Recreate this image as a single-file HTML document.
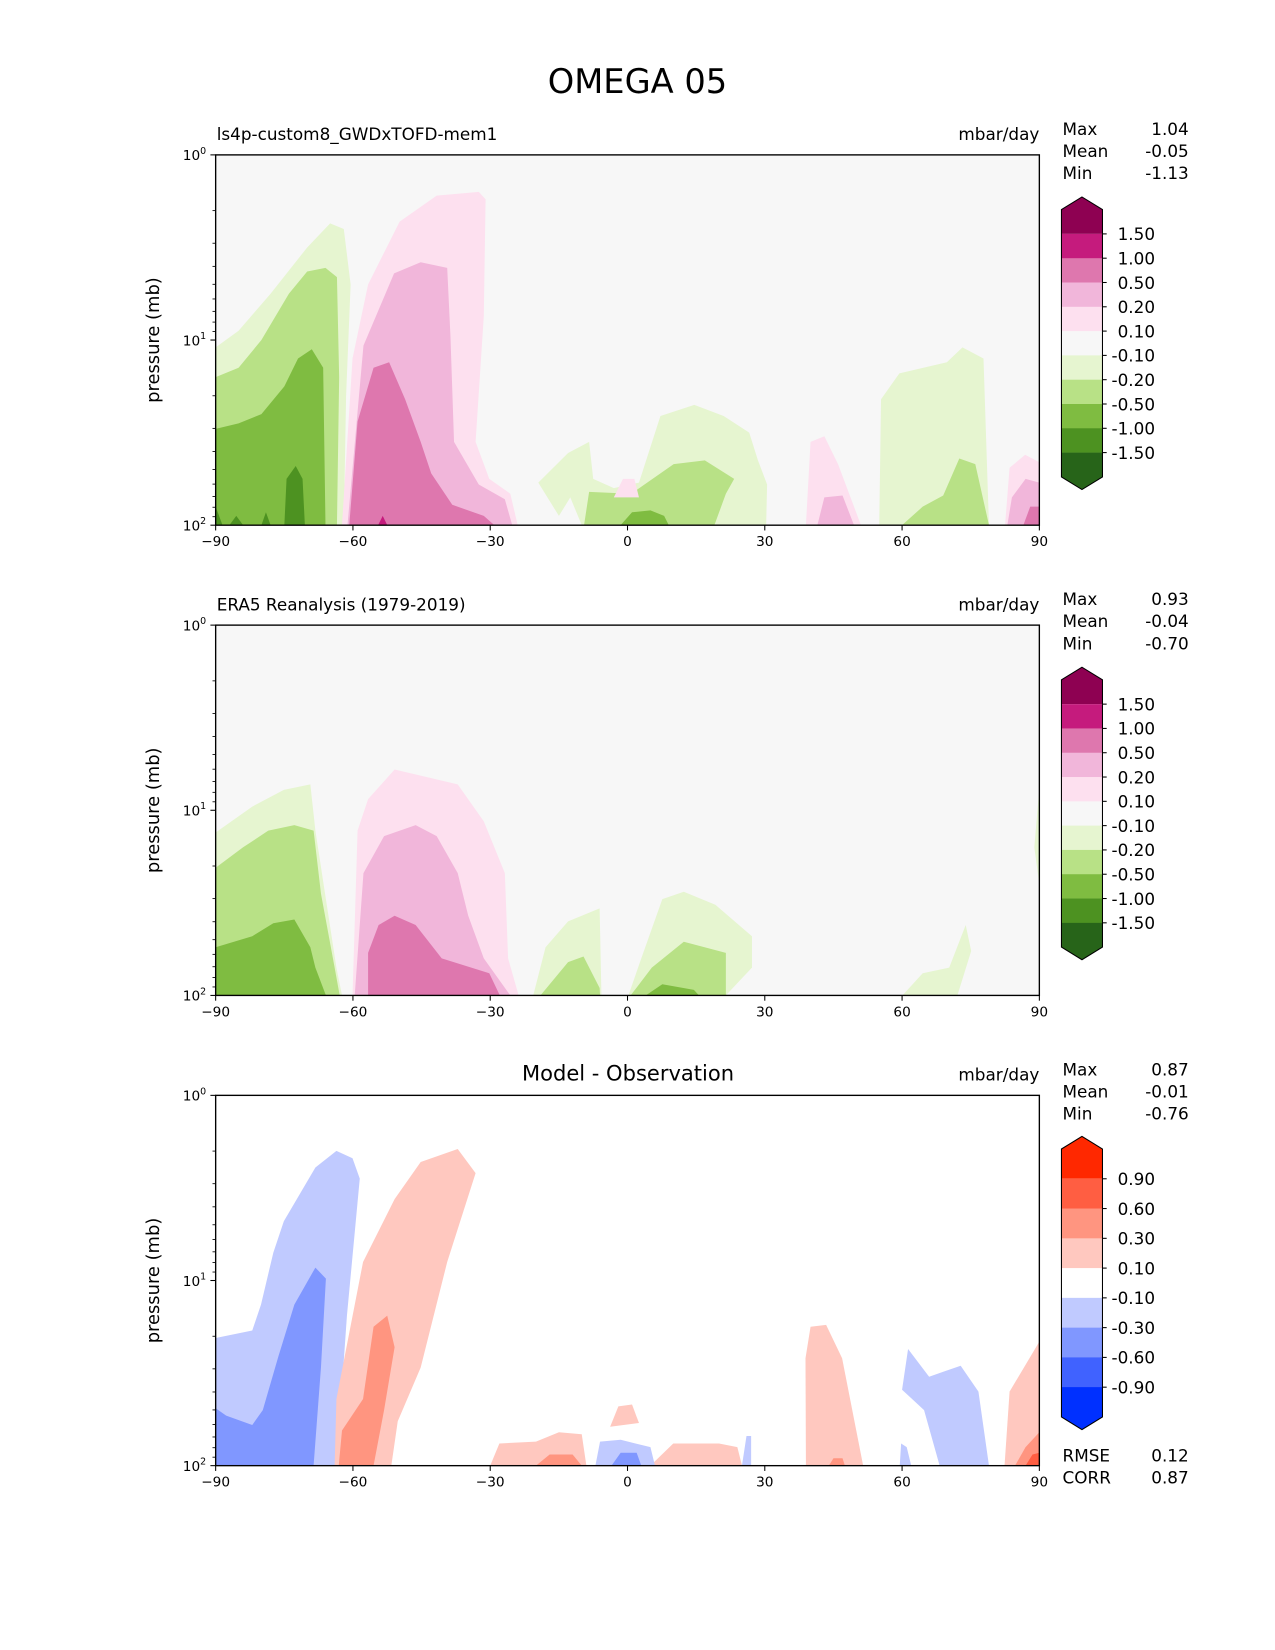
<!DOCTYPE html>
<html><head><meta charset="utf-8"><style>
html,body{margin:0;padding:0;background:#fff;}
svg{display:block;font-family:"DejaVu Sans","Liberation Sans",sans-serif;}
</style></head><body>
<svg id="fig" width="1275" height="1650" viewBox="0 0 1212 1568" xmlns="http://www.w3.org/2000/svg">
<rect width="1212" height="1568" fill="#fff"/>
<text x="606" y="88" font-size="32" text-anchor="middle">OMEGA 05</text>
</svg>
<script>
// ---- data ----
const xTickLabels = [-90,-60,-30,0,30,60,90];
const yTickExps = [0,1,2];
const piygColors = ['#8e0152','#c51b7d','#de77ae','#f1b6da','#fde0ef','#f7f7f7','#e6f5d0','#b8e186','#7fbc41','#4d9221','#276419'];
const piygLabels = ['1.50','1.00','0.50','0.20','0.10','-0.10','-0.20','-0.50','-1.00','-1.50'];
const diffColors = ['#ff2800','#ff5e42','#ff9580','#ffc8bf','#ffffff','#c0caff','#8097ff','#4062ff','#0030ff'];
const diffLabels = ['0.90','0.60','0.30','0.10','-0.10','-0.30','-0.60','-0.90'];
const stats1 = ['1.04','-0.05','-1.13'];
const stats2 = ['0.93','-0.04','-0.70'];
const stats3 = ['0.87','-0.01','-0.76'];
const rmseCorr = ['0.12','0.87'];
// contour polygons: [lat, log10(p)], level = color index
const model = [
 {c:6,pts:[[-90,1.04],[-85,0.95],[-78,0.75],[-70,0.5],[-65,0.37],[-62,0.4],[-60.5,0.7],[-61.5,1.3],[-62,2],[-90,2]]},
 {c:7,pts:[[-90,1.2],[-85,1.15],[-80,1.0],[-74,0.75],[-70,0.63],[-66,0.61],[-63.5,0.66],[-63,1.2],[-63.5,2],[-90,2]]},
 {c:8,pts:[[-90,1.48],[-85,1.45],[-80,1.4],[-75,1.25],[-72,1.1],[-69,1.05],[-66.5,1.15],[-66,2],[-90,2]]},
 {c:9,pts:[[-75,2],[-74.5,1.75],[-72.5,1.68],[-71,1.75],[-70.5,2]]},
 {c:9,pts:[[-90,2],[-90,1.9],[-88.5,2]]},
 {c:9,pts:[[-87,2],[-85.5,1.95],[-84,2]]},
 {c:9,pts:[[-80,2],[-79,1.93],[-78,2]]},
 {c:4,pts:[[-62.4,2],[-60.1,1.1],[-56.7,0.7],[-49.8,0.36],[-41.7,0.22],[-32.5,0.2],[-31,0.24],[-31.4,0.87],[-33.2,1.55],[-30.2,1.75],[-25.6,1.83],[-24,2]]},
 {c:3,pts:[[-61.2,2],[-57.7,1.03],[-51,0.64],[-45.2,0.58],[-39.4,0.61],[-38.7,0.98],[-37.9,1.55],[-32.5,1.78],[-26.8,1.86],[-25.2,2]]},
 {c:2,pts:[[-60.8,2],[-59,1.44],[-55.5,1.15],[-52.1,1.12],[-48.6,1.32],[-45.2,1.55],[-42.9,1.72],[-38.3,1.89],[-31.4,1.95],[-29.1,2]]},
 {c:1,pts:[[-54.5,2],[-53.5,1.95],[-52.5,2]]},
 {c:6,pts:[[-19.5,1.77],[-13,1.61],[-8.4,1.55],[-7.5,1.75],[-3,1.8],[2.5,1.77],[7.2,1.41],[14.6,1.35],[21,1.41],[26.6,1.5],[28.5,1.65],[30.5,1.78],[30.3,2],[-10,2],[-12.5,1.85],[-15,1.95]]},
 {c:7,pts:[[-9.5,2],[-8.4,1.82],[0.8,1.83],[10.1,1.67],[16.9,1.65],[23.3,1.75],[21.5,1.83],[19,2]]},
 {c:8,pts:[[-1.5,2],[1,1.93],[5,1.92],[8,1.95],[9,2]]},
 {c:4,pts:[[-3,1.85],[-1,1.75],[1.5,1.75],[2.5,1.85]]},
 {c:4,pts:[[39,2],[40,1.55],[43,1.52],[46,1.67],[51,2]]},
 {c:3,pts:[[41.5,2],[43,1.85],[47,1.84],[49.5,2]]},
 {c:6,pts:[[55,2],[55.4,1.32],[59.4,1.18],[69.8,1.12],[73.2,1.04],[77.8,1.1],[79,2]]},
 {c:7,pts:[[60,2],[64.5,1.9],[69,1.84],[72.5,1.64],[76,1.67],[79,2]]},
 {c:4,pts:[[82.5,2],[83.5,1.69],[86.9,1.62],[90,1.66],[90,2]]},
 {c:3,pts:[[83,2],[84,1.85],[87,1.75],[90,1.77],[90,2]]},
 {c:2,pts:[[86.5,2],[88,1.9],[90,1.9],[90,2]]}
];
const era = [
 {c:6,pts:[[-90,1.12],[-82,0.98],[-75.1,0.89],[-69.3,0.86],[-68.2,1.11],[-63.6,1.85],[-62.4,2],[-90,2]]},
 {c:7,pts:[[-90,1.31],[-84,1.2],[-78.5,1.11],[-72.8,1.08],[-68.6,1.11],[-67,1.45],[-64,1.85],[-62.9,2],[-90,2]]},
 {c:8,pts:[[-90,1.74],[-82,1.68],[-77.4,1.61],[-72.8,1.59],[-69.3,1.74],[-68.2,1.85],[-65.9,2],[-90,2]]},
 {c:4,pts:[[-60.1,2],[-59,1.11],[-56.7,0.94],[-50.9,0.78],[-37.1,0.86],[-31.4,1.06],[-26.8,1.34],[-26.1,1.8],[-23.8,2]]},
 {c:3,pts:[[-59.6,2],[-57.7,1.34],[-53.2,1.14],[-46.3,1.08],[-41.7,1.14],[-37.1,1.34],[-34.8,1.57],[-31.4,1.8],[-25.6,2]]},
 {c:2,pts:[[-56.7,2],[-56.7,1.77],[-54.4,1.62],[-50.9,1.57],[-46.3,1.62],[-40.6,1.8],[-30.2,1.88],[-27.9,2]]},
 {c:6,pts:[[-20.6,2],[-17.9,1.74],[-13,1.6],[-6.1,1.53],[-5.7,2]]},
 {c:6,pts:[[0.2,2],[3,1.8],[7.6,1.48],[12.3,1.44],[19.2,1.51],[27.2,1.68],[27.2,1.85],[21.5,2]]},
 {c:7,pts:[[-19,2],[-13,1.82],[-9.6,1.79],[-6.1,1.96],[-6,2]]},
 {c:7,pts:[[0.7,2],[5.3,1.85],[12.3,1.71],[21.5,1.77],[21.5,2]]},
 {c:8,pts:[[4,2],[7.6,1.94],[14.5,1.97],[15.6,2]]},
 {c:6,pts:[[60.1,2],[64.5,1.88],[70.3,1.85],[73.9,1.62],[75.1,1.76],[72.1,2]]},
 {c:6,pts:[[88.9,1.2],[90,0.88],[90,1.4]]}
];
const diff = [
 {c:5,pts:[[-90,1.31],[-82,1.27],[-80.1,1.13],[-77.4,0.85],[-75.1,0.68],[-68.2,0.39],[-63.6,0.3],[-60.1,0.34],[-58.5,0.45],[-61.3,1.19],[-63.6,2],[-90,2]]},
 {c:6,pts:[[-90,1.69],[-87.7,1.73],[-82,1.78],[-79.7,1.7],[-76.3,1.41],[-72.8,1.13],[-68.2,0.93],[-65.9,0.99],[-67,1.47],[-68.6,2],[-90,2]]},
 {c:3,pts:[[-64,2],[-63.6,1.64],[-57.8,0.9],[-50.9,0.56],[-45.2,0.36],[-37.1,0.29],[-33.2,0.42],[-39.4,0.9],[-45.2,1.47],[-50.2,1.76],[-51.6,2]]},
 {c:2,pts:[[-63.1,2],[-62.4,1.81],[-57.8,1.64],[-55.5,1.25],[-52.5,1.19],[-50.9,1.36],[-53.2,1.7],[-55.5,2]]},
 {c:3,pts:[[-30,2],[-28,1.88],[-20,1.87],[-15,1.82],[-10,1.83],[-9,2]]},
 {c:2,pts:[[-20,2],[-17,1.94],[-12,1.94],[-10,2]]},
 {c:3,pts:[[5,2],[10,1.88],[20,1.88],[24,1.9],[25,2]]},
 {c:3,pts:[[-3.8,1.79],[-2,1.68],[1,1.67],[2.5,1.77]]},
 {c:5,pts:[[-7,2],[-6,1.87],[-1.5,1.86],[5,1.9],[6,2]]},
 {c:6,pts:[[-3.5,2],[-1.5,1.93],[2,1.93],[3,2]]},
 {c:5,pts:[[25,2],[26,1.84],[27,1.84],[27,2]]},
 {c:3,pts:[[39,2],[38.9,1.42],[40,1.25],[43.4,1.24],[46.9,1.42],[51.5,2]]},
 {c:2,pts:[[44,2],[45,1.96],[47,1.96],[47.5,2]]},
 {c:5,pts:[[60,1.59],[61.3,1.37],[65.9,1.52],[69.3,1.49],[72.8,1.46],[76.7,1.6],[79,2],[68.2,2],[64.8,1.7]]},
 {c:5,pts:[[59.5,2],[59.8,1.88],[61,1.9],[62,2]]},
 {c:3,pts:[[82.4,2],[83.5,1.6],[90,1.33],[90,2]]},
 {c:2,pts:[[84.7,2],[87,1.9],[90,1.82],[90,2]]},
 {c:1,pts:[[87,2],[88.5,1.94],[90,1.93],[90,2]]}
];
// ---- drawing ----
const NS='http://www.w3.org/2000/svg';
const svg=document.getElementById('fig');
function mk(tag,attrs,parent){const e=document.createElementNS(NS,tag);for(const k in attrs)e.setAttribute(k,attrs[k]);(parent||svg).appendChild(e);return e;}
const L=205,R=988;
function xs(lat){return L+(lat+90)/180*(R-L);}
function ys(top,e){return top+e/2*352;}
function panel(top,bg,polys,colors,subtitle,subCenter,stats,name){
  const g=mk('g',{});
  
  
  const clipId='clip'+top;
  const cp=mk('clipPath',{id:clipId},g);mk('rect',{x:L,y:top,width:R-L,height:352},cp);
  const bgr=mk('rect',{x:L,y:top,width:R-L,height:352,fill:bg},g);
  
  
  const cg=mk('g',{'clip-path':'url(#'+clipId+')'},g);
  polys.forEach(p=>{
    const d=p.pts.map(q=>xs(q[0]).toFixed(1)+','+ys(top,q[1]).toFixed(1)).join(' ');
    const el=mk('polygon',{points:d,fill:colors[p.c]},cg);
    
    
  });
  mk('rect',{x:L,y:top,width:R-L,height:352,fill:'none',stroke:'#000','stroke-width':1.3},g);
  xTickLabels.forEach(v=>{
    const x=xs(v);
    mk('line',{x1:x,y1:top+352,x2:x,y2:top+357,stroke:'#000','stroke-width':1},g);
    const t=mk('text',{x:x,y:top+372,'font-size':13,'text-anchor':'middle'},g);
    t.textContent=(v<0?'\u2212'+(-v):''+v);
    
    
  });
  yTickExps.forEach(e=>{
    const y=ys(top,e);
    mk('line',{x1:L-5,y1:y,x2:L,y2:y,stroke:'#000','stroke-width':1},g);
    const t=mk('text',{x:L-9,y:y+5,'font-size':13,'text-anchor':'end'},g);
    t.innerHTML='10<tspan dy="-6" font-size="9">'+e+'</tspan>';
    
    
  });
  for(let dec=0;dec<2;dec++)for(let m=2;m<10;m++){
    const y=ys(top,dec+Math.log10(m));
    mk('line',{x1:L-3,y1:y,x2:L,y2:y,stroke:'#000','stroke-width':0.8},g);
  }
  const yl=mk('text',{x:0,y:0,'font-size':17,'text-anchor':'middle',transform:'translate(151,'+(top+176)+') rotate(-90)'},g);
  yl.textContent='pressure (mb)';
  
  
  const st=mk('text',subCenter?{x:597,y:top-14,'font-size':20,'text-anchor':'middle'}:{x:206,y:top-14,'font-size':16},g);
  st.textContent=subtitle;
  
  
  const u=mk('text',{x:988,y:top-14,'font-size':16,'text-anchor':'end'},g);
  u.textContent='mbar/day';
  
  
  ['Max','Mean','Min'].forEach((k,i)=>{
    const a=mk('text',{x:1010,y:top-19+i*21,'font-size':16},g);a.textContent=k;
    
    
    const b=mk('text',{x:1130,y:top-19+i*21,'font-size':16,'text-anchor':'end'},g);b.textContent=stats[i];
    
    
  });
}
function colorbar(top,step,colors,labels,name){
  const g=mk('g',{});
  
  
  const x0=1009,x1=1048,n=colors.length,tri=12;
  const bodyTop=top, bodyBot=top+step*n;
  colors.forEach((c,i)=>{
    let el;
    if(i===0) el=mk('polygon',{points:`${x0},${bodyTop+step} ${x0},${bodyTop} ${(x0+x1)/2},${bodyTop-tri} ${x1},${bodyTop} ${x1},${bodyTop+step}`,fill:c},g);
    else if(i===n-1) el=mk('polygon',{points:`${x0},${bodyBot-step} ${x0},${bodyBot} ${(x0+x1)/2},${bodyBot+tri} ${x1},${bodyBot} ${x1},${bodyBot-step}`,fill:c},g);
    else el=mk('rect',{x:x0,y:bodyTop+i*step,width:x1-x0,height:step+0.3,fill:c},g);
    
    
  });
  mk('polygon',{points:`${x0},${bodyTop} ${(x0+x1)/2},${bodyTop-tri} ${x1},${bodyTop} ${x1},${bodyBot} ${(x0+x1)/2},${bodyBot+tri} ${x0},${bodyBot}`,fill:'none',stroke:'#000','stroke-width':1},g);
  labels.forEach((l,i)=>{
    const y=bodyTop+(i+1)*step;
    mk('line',{x1:x1,y1:y,x2:x1+4,y2:y,stroke:'#000'},g);
    const t=mk('text',{x:1098,y:y+6,'font-size':16,'text-anchor':'end'},g);
    t.textContent=l;
    
    
  });
}
panel(147,'#f7f7f7',model,piygColors,'ls4p-custom8_GWDxTOFD-mem1',false,stats1,'model-panel');
panel(594,'#f7f7f7',era,piygColors,'ERA5 Reanalysis (1979-2019)',false,stats2,'era5-panel');
panel(1041,'#ffffff',diff,diffColors,'Model - Observation',true,stats3,'difference-panel');
colorbar(199,23.1,piygColors,piygLabels,'model-colorbar');
colorbar(646,23.1,piygColors,piygLabels,'era5-colorbar');
colorbar(1092,28.3,diffColors,diffLabels,'difference-colorbar');
['RMSE','CORR'].forEach((k,i)=>{
  const a=mk('text',{x:1010,y:1389+i*21,'font-size':16});a.textContent=k;
  
  
  const b=mk('text',{x:1130,y:1389+i*21,'font-size':16,'text-anchor':'end'});b.textContent=rmseCorr[i];
  
  
});
</script>
</body></html>
